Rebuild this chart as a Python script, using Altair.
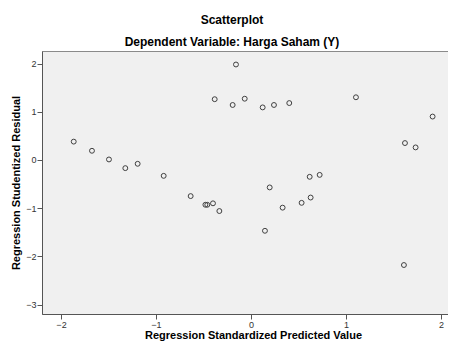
import altair as alt
import pandas as pd

pred = [-0.158, -0.382, -0.193, -0.066, 0.123, 0.242, 0.403, 1.105, 1.912, 1.621, 1.733,
        -1.866, -1.674, -1.495, -1.323, -1.193, -0.919,
        -0.635, -0.48, -0.46, -0.40, -0.333,
        0.197, 0.618, 0.723, 0.628, 0.533, 0.333, 0.147, 1.61]
resid = [1.98, 1.26, 1.14, 1.27, 1.09, 1.14, 1.18, 1.30, 0.90, 0.35, 0.26,
         0.38, 0.19, 0.01, -0.17, -0.08, -0.33,
         -0.75, -0.93, -0.93, -0.90, -1.06,
         -0.57, -0.35, -0.31, -0.78, -0.89, -0.99, -1.47, -2.18]

df = pd.DataFrame({"x": pred, "y": resid})

FONT = "Liberation Sans"

chart = alt.Chart(df).mark_point(
    shape="circle", filled=False, size=24, strokeWidth=1, color="#404040", opacity=1
).encode(
    x=alt.X("x:Q", scale=alt.Scale(domain=[-2.2, 2.074], nice=False, zero=False),
            axis=alt.Axis(values=[-2, -1, 0, 1, 2], title="Regression Standardized Predicted Value",
                          grid=False, tickSize=5, labelPadding=1,
                          titleX=211, titleY=24, titleBaseline="alphabetic")),
    y=alt.Y("y:Q", scale=alt.Scale(domain=[-3.196, 2.26], nice=False, zero=False),
            axis=alt.Axis(values=[-3, -2, -1, 0, 1, 2], title="Regression Studentized Residual",
                          grid=False, tickSize=5, labelPadding=1, titlePadding=4)),
).properties(
    width=406, height=263,
    title=alt.TitleParams(
        text="Scatterplot",
        subtitle="Dependent Variable: Harga Saham (Y)",
        anchor="middle", dx=-13, offset=2,
        font=FONT, fontSize=12, fontWeight="bold", color="#000000",
        subtitleFont=FONT, subtitleFontSize=12, subtitleFontWeight="bold",
        subtitleColor="#000000", subtitlePadding=10,
    ),
    autosize=alt.AutoSizeParams(type="none"),
    padding={"left": 34, "top": 43, "right": 0, "bottom": 27},
).configure_view(
    fill="#f0f0f0", stroke="#8a8a8a", strokeWidth=1
).configure_axis(
    domainColor="#555555", tickColor="#555555", labelColor="#333333",
    labelFont=FONT, labelFontSize=9, titleFont=FONT, titleFontSize=11,
    titleFontWeight="bold", titleColor="#000000",
)

chart.save("out.html", embed_options={"renderer": "svg", "actions": False})
